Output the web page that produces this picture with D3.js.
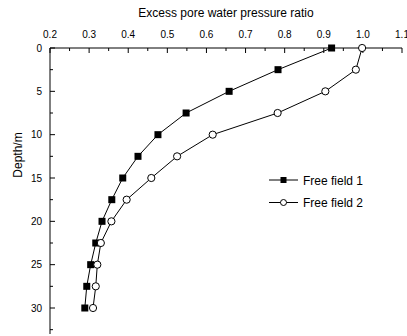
<!DOCTYPE html>
<html><head><meta charset="utf-8">
<script src="https://cdn.jsdelivr.net/npm/d3@7"></script>
<style>body{margin:0;background:#fff}svg{display:block}text{font-family:"Liberation Sans",Arial,sans-serif;fill:#000}</style>
</head><body>
<svg id="c" width="407" height="336"></svg>
<script>
const depths = [0, 2.5, 5, 7.5, 10, 12.5, 15, 17.5, 20, 22.5, 25, 27.5, 30];
const field1 = [0.92, 0.783, 0.658, 0.548, 0.476, 0.425, 0.386, 0.358, 0.333, 0.317, 0.304, 0.294, 0.289];
const field2 = [0.998, 0.982, 0.904, 0.782, 0.616, 0.525, 0.459, 0.396, 0.357, 0.33, 0.321, 0.317, 0.31];
const xTicks = [0.2, 0.3, 0.4, 0.5, 0.6, 0.7, 0.8, 0.9, 1.0, 1.1];
const yTicks = [0, 5, 10, 15, 20, 25, 30];
const seriesNames = ["Free field 1", "Free field 2"];

const svg = d3.select("#c");
const x = d3.scaleLinear().domain([0.2, 1.1]).range([50, 402]);
const y = d3.scaleLinear().domain([0, 33]).range([48, 334]);

// x axis (top), ticks inward
const xMinor = d3.range(0.2, 1.1001, 0.05);
const gx = svg.append("g").attr("transform", `translate(0,${y(0)})`);
gx.append("line").attr("x1", x(0.2)).attr("x2", x(1.1)).attr("stroke", "#000");
gx.selectAll(".mn").data(xMinor).join("line")
  .attr("x1", d => x(d)).attr("x2", d => x(d)).attr("y1", 0)
  .attr("y2", (d, i) => i % 2 === 0 ? 5 : 3).attr("stroke", "#000");
gx.selectAll("text").data(xTicks).join("text")
  .attr("x", d => x(d)).attr("y", -10).attr("text-anchor", "middle")
  .attr("font-size", 10).text(d => d.toFixed(1));

// y axis (left), ticks inward
const yMinor = d3.range(0, 32.6, 2.5);
const gy = svg.append("g").attr("transform", `translate(${x(0.2)},0)`);
gy.append("line").attr("y1", y(0)).attr("y2", y(33)).attr("stroke", "#000");
gy.selectAll(".mn").data(yMinor).join("line")
  .attr("y1", d => y(d)).attr("y2", d => y(d)).attr("x1", 0)
  .attr("x2", (d, i) => i % 2 === 0 ? 5 : 3).attr("stroke", "#000");
gy.selectAll("text").data(yTicks).join("text")
  .attr("x", -8).attr("y", d => y(d) + 3.5).attr("text-anchor", "end")
  .attr("font-size", 10).text(d => d);

// titles
svg.append("text").attr("x", 226).attr("y", 17).attr("text-anchor", "middle")
  .attr("font-size", 12).text("Excess pore water pressure ratio");
svg.append("text").attr("transform", `translate(22,155) rotate(-90)`)
  .attr("text-anchor", "middle").attr("font-size", 12).text("Depth/m");

const line = d3.line().x(d => x(d[0])).y(d => y(d[1]));
const s1 = field1.map((v, i) => [v, depths[i]]);
const s2 = field2.map((v, i) => [v, depths[i]]);

svg.append("path").attr("d", line(s1)).attr("fill", "none").attr("stroke", "#000").attr("stroke-width", 1);
svg.append("path").attr("d", line(s2)).attr("fill", "none").attr("stroke", "#000").attr("stroke-width", 1);
svg.selectAll(".sq").data(s1).join("rect")
  .attr("x", d => x(d[0]) - 3.5).attr("y", d => y(d[1]) - 3.5)
  .attr("width", 7).attr("height", 7).attr("fill", "#000");
svg.selectAll(".ci").data(s2).join("circle")
  .attr("cx", d => x(d[0])).attr("cy", d => y(d[1])).attr("r", 3.6)
  .attr("fill", "#fff").attr("stroke", "#000");

// legend
const lg = svg.append("g");
[0, 1].forEach(i => {
  const ly = 180 + i * 22.5;
  lg.append("line").attr("x1", 269).attr("x2", 298).attr("y1", ly).attr("y2", ly).attr("stroke", "#000");
  if (i === 0) lg.append("rect").attr("x", 283.5 - 3).attr("y", ly - 3).attr("width", 6).attr("height", 6).attr("fill", "#000");
  else lg.append("circle").attr("cx", 283.5).attr("cy", ly).attr("r", 3).attr("fill", "#fff").attr("stroke", "#000");
  lg.append("text").attr("x", 303).attr("y", ly + 4.5).attr("font-size", 12).text(seriesNames[i]);
});
</script>
</body></html>
